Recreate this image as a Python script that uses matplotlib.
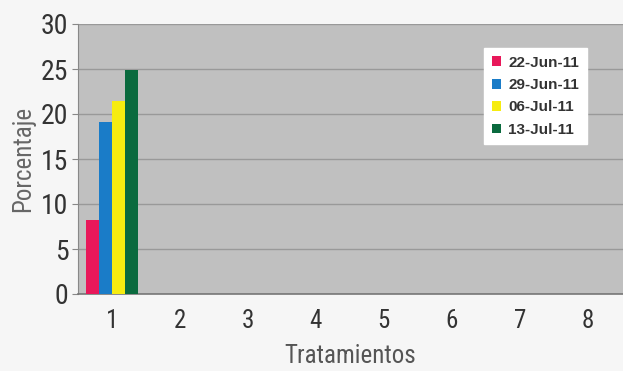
import matplotlib
matplotlib.use("Agg")
import matplotlib.pyplot as plt
import numpy as np

categories = [1, 2, 3, 4, 5, 6, 7, 8]
series_names = ["22-Jun-11", "29-Jun-11", "06-Jul-11", "13-Jul-11"]
series_values = {
    "22-Jun-11": [8.2, 0, 0, 0, 0, 0, 0, 0],
    "29-Jun-11": [19.1, 0, 0, 0, 0, 0, 0, 0],
    "06-Jul-11": [21.4, 0, 0, 0, 0, 0, 0, 0],
    "13-Jul-11": [24.9, 0, 0, 0, 0, 0, 0, 0],
}
colors = ["#e8185a", "#1a7cc8", "#f6ec10", "#0a6a3e"]
yticks = [0, 5, 10, 15, 20, 25, 30]

fig = plt.figure(figsize=(6.23, 3.71), dpi=100, facecolor="#f6f6f6")
ax = fig.add_axes([78/623, 1-294/371, 1-78/623, (294-24)/371])
ax.set_facecolor("#c0c0c0")

x = np.arange(len(categories))
w = 0.19
n = len(series_names)
for i, name in enumerate(series_names):
    offs = (i - (n - 1) / 2) * w
    ax.bar(x + offs, series_values[name], width=w, color=colors[i], label=name, zorder=3)

tk = dict(family=["Roboto Condensed", "DejaVu Sans"])
ax.set_xlim(-0.5, len(categories) - 0.5 + 0.02)
ax.set_ylim(0, 30)
ax.set_yticks(yticks)
ax.set_yticklabels([str(t) for t in yticks], fontsize=20, color="#333333", **tk)
ax.set_xticks(x)
ax.set_xticklabels([str(c) for c in categories], fontsize=18, color="#333333", **tk)
ax.yaxis.grid(True, color="#999999", linewidth=1, zorder=0)
ax.set_axisbelow(True)
for s in ["top", "right"]:
    ax.spines[s].set_visible(False)
ax.spines["left"].set_color("#888888")
ax.spines["bottom"].set_color("#777777")
ax.spines["bottom"].set_linewidth(1.2)
ax.tick_params(axis="y", length=4, color="#888888", pad=3)
ax.tick_params(axis="x", length=0, pad=11)

ax.set_xlabel("Tratamientos", fontsize=18, color="#555555", labelpad=8, **tk)
ax.set_ylabel("Porcentaje", fontsize=18, color="#666666", labelpad=4, **tk)

leg = ax.legend(loc="upper left", bbox_to_anchor=((484-78)/545, 1-(48-24)/270),
                borderaxespad=0,
                frameon=True, fancybox=False, framealpha=1, edgecolor="white",
                facecolor="white", handlelength=0.6, handleheight=0.6,
                handletextpad=0.5, labelspacing=0.55, borderpad=0.5,
                prop={"family": "Liberation Sans", "weight": "bold", "size": 11})
for t in leg.get_texts():
    t.set_color("#333333")

fig.savefig("out.png", dpi=100, facecolor=fig.get_facecolor())
